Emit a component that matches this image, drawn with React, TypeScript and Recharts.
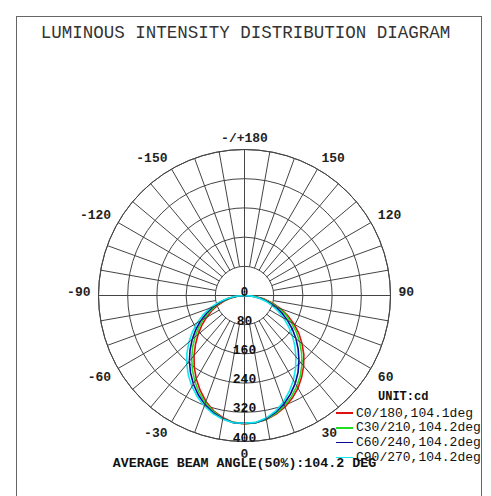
import { RadarChart, Radar, PolarGrid, PolarAngleAxis, PolarRadiusAxis } from "recharts";

const CX = 244.5;
const CY = 295.5;
const R = 146;
const MONO = '"Liberation Mono", "Courier New", monospace';

// gamma angle (deg), 0 = straight down, + = right half
const gamma = [
  -90, -85, -80, -75, -70, -65, -60, -55, -50, -45, -40, -35, -30, -25, -20, -15, -10, -5,
  0, 5, 10, 15, 20, 25, 30, 35, 40, 45, 50, 55, 60, 65, 70, 75, 80, 85, 90,
];

// intensity in cd for each C plane pair
const c0 = [
  0, 19, 38, 58, 78, 99, 120, 143, 166, 190, 215, 240, 264, 287, 309, 327, 340, 349,
  352, 350, 345, 336, 325, 310, 293, 273, 252, 230, 206, 182, 157, 131, 105, 79, 53, 26, 0,
];
const c30 = [
  0, 21, 42, 63, 85, 107, 130, 153, 177, 201, 225, 249, 272, 294, 313, 329, 342, 349,
  351, 350, 344, 334, 321, 305, 287, 267, 245, 221, 197, 173, 148, 124, 99, 74, 49, 25, 0,
];
const c60 = [
  0, 23, 46, 68, 92, 115, 139, 163, 187, 211, 235, 258, 280, 300, 318, 332, 343, 350,
  350, 350, 343, 331, 316, 298, 278, 256, 232, 208, 184, 160, 136, 113, 90, 67, 44, 22, 0,
];
const c90 = [
  0, 25, 50, 75, 100, 125, 150, 174, 199, 223, 246, 268, 288, 306, 322, 335, 344, 350,
  350, 349, 341, 328, 311, 290, 268, 244, 219, 195, 171, 147, 124, 102, 81, 60, 40, 20, 0,
];

const seriesNames = ["C0/180,104.1deg", "C30/210,104.2deg", "C60/240,104.2deg", "C90/270,104.2deg"];
const seriesKeys = ["c0", "c30", "c60", "c90"];
const seriesColors = ["#e01010", "#22dd22", "#0a0a9a", "#10e8f0"];

const spokeTicks = [
  -170, -160, -150, -140, -130, -120, -110, -100, -90, -80, -70, -60, -50, -40, -30, -20, -10,
  0, 10, 20, 30, 40, 50, 60, 70, 80, 90, 100, 110, 120, 130, 140, 150, 160, 170, 180,
];
const ringTicks = [0, 80, 160, 240, 320, 400];

const rows = gamma.map((g, i) => ({ gamma: g, c0: c0[i], c30: c30[i], c60: c60[i], c90: c90[i] }));

const AngleTick = (props: any) => {
  const { payload } = props;
  const v = payload.value;
  if (v % 30 !== 0) return null;
  const a = (payload.coordinate * Math.PI) / 180;
  const cos = Math.cos(a);
  const sin = Math.sin(a);
  const x = CX + (R + 8) * cos;
  const y = CY - (R + 8) * sin;
  const anchor = Math.abs(cos) < 1e-6 ? "middle" : cos > 0 ? "start" : "end";
  const dy = sin < -1e-6 ? 8.5 : 0;
  return (
    <text x={x} y={y + dy} textAnchor={anchor} fontFamily={MONO} fontWeight="bold" fontSize={13} fill="#222">
      {v === 180 ? "-/+180" : v}
    </text>
  );
};

const RingTick = (props: any) => {
  const { x, y, payload } = props;
  return (
    <text x={x} y={y} textAnchor="middle" fontFamily={MONO} fontWeight="bold" fontSize={13} fill="#111">
      {payload.value}
    </text>
  );
};

export default function App() {
  return (
    <div style={{ position: "absolute", left: 0, top: 0, width: 491, height: 496, overflow: "hidden", background: "#fff" }}>
      <div style={{ position: "absolute", left: 16, top: 16, width: 466, height: 520, border: "1.5px solid #666", boxSizing: "border-box" }} />
      <div style={{ position: "absolute", left: 0, top: 22, width: 491, textAlign: "center", fontFamily: MONO, fontSize: 17.5, color: "#333", lineHeight: "22px" }}>
        LUMINOUS INTENSITY DISTRIBUTION DIAGRAM
      </div>
      <div style={{ position: "absolute", left: 0, top: 0 }}>
        <RadarChart
          width={491}
          height={496}
          data={rows}
          cx={CX}
          cy={CY}
          outerRadius={R}
          startAngle={-270}
          endAngle={90}
          margin={{ top: 0, right: 0, bottom: 0, left: 0 }}
        >
          <PolarGrid gridType="circle" polarAngles={[0, 90, 180, 270]} stroke="#444" strokeWidth={1} />
          <PolarAngleAxis
            dataKey="gamma"
            type="number"
            domain={[-180, 180]}
            ticks={spokeTicks}
            orientation="inner"
            tickSize={R - (R * 80) / 400}
            axisLineType="circle"
            axisLine={{ stroke: "#444", strokeWidth: 1 }}
            tickLine={{ stroke: "#444", strokeWidth: 1 }}
            tick={AngleTick}
          />
          <PolarRadiusAxis
            angle={-90}
            type="number"
            domain={[0, 400]}
            ticks={ringTicks}
            axisLine={false}
            tickLine={false}
            tick={RingTick}
          />
          {seriesKeys.map((k, i) => (
            <Radar
              key={k}
              name={seriesNames[i]}
              dataKey={k}
              stroke={seriesColors[i]}
              strokeWidth={1.6}
              fill="none"
              fillOpacity={0}
              dot={false}
              isAnimationActive={false}
            />
          ))}
        </RadarChart>
      </div>
      <div style={{ position: "absolute", left: 378, top: 389, fontFamily: MONO, fontSize: 12, fontWeight: "bold", color: "#111", lineHeight: "16px" }}>
        UNIT:cd
      </div>
      {seriesNames.map((n, i) => (
        <div key={n} style={{ position: "absolute", left: 336, top: 405 + i * 14.8, height: 16, display: "flex", alignItems: "center", fontFamily: MONO, fontSize: 13, color: "#111" }}>
          <span style={{ display: "inline-block", width: 17, height: 1.6, background: seriesColors[i], marginRight: 3 }} />
          <span>{n}</span>
        </div>
      ))}
      <div style={{ position: "absolute", left: 0, top: 456, width: 489, textAlign: "center", fontFamily: MONO, fontSize: 13.3, fontWeight: "bold", color: "#111", lineHeight: "16px" }}>
        AVERAGE BEAM ANGLE(50%):104.2 DEG
      </div>
    </div>
  );
}
